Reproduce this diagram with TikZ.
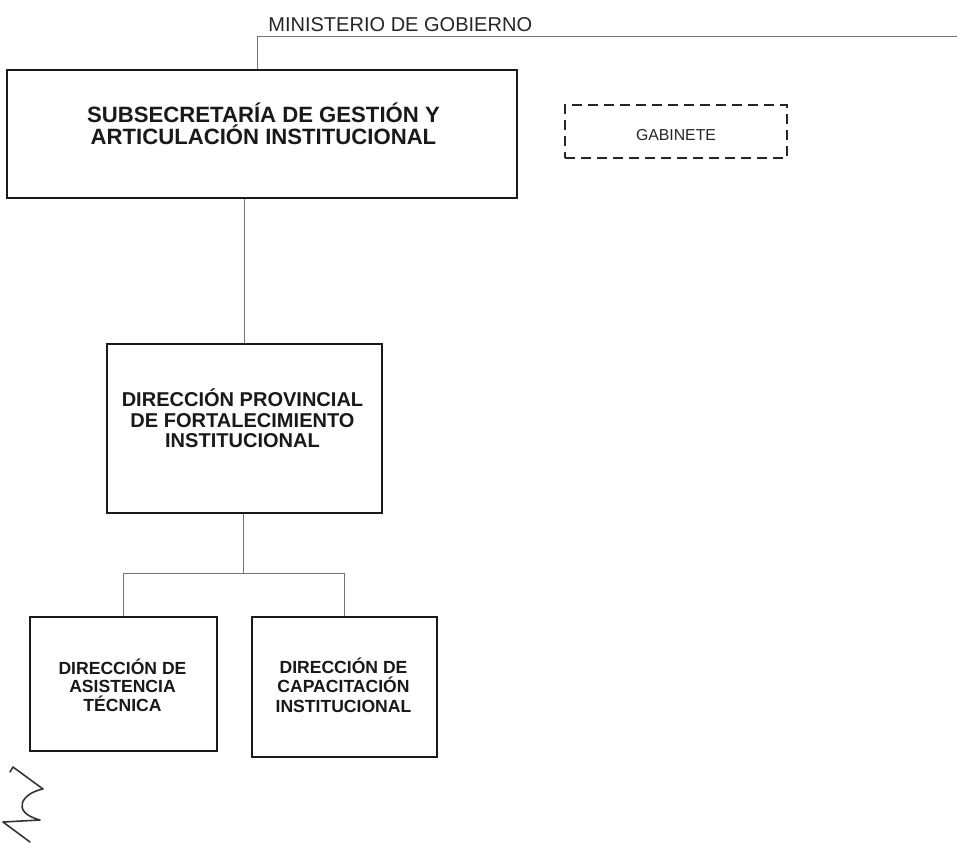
\documentclass[tikz,border=0pt]{standalone}
\usepackage{fontspec}
\setmainfont{Liberation Sans}
\usetikzlibrary{calc}
\begin{document}
\begin{tikzpicture}[x=0.02cm,y=-0.02cm,
  box/.style={draw=black!90,line width=1.1pt,inner sep=0pt},
  dashbox/.style={draw=black!85,line width=1.1pt,inner sep=0pt,dash pattern=on 5.7pt off 3.4pt},
  conn/.style={draw=black!55,line width=0.55pt},
  lbl/.style={align=center,inner sep=0pt,text=black!90,font=\bfseries},
  plain/.style={inner sep=0pt,text=black!85}]
\useasboundingbox[fill=white] (0,0) rectangle (961,850);
% boxes
\node[box,minimum width=10.2cm,minimum height=2.56cm] (b1) at (262,134) {};
\node[dashbox,minimum width=4.44cm,minimum height=1.06cm] (gab) at (676,131.5) {};
\node[box,minimum width=5.5cm,minimum height=3.38cm] (b2) at (244.5,428.5) {};
\node[box,minimum width=3.74cm,minimum height=2.68cm] (b3) at (123.5,684) {};
\node[box,minimum width=3.7cm,minimum height=2.8cm] (b4) at (344.5,687) {};
% texts
\node[lbl,font=\bfseries\fontsize{12.6pt}{12.5pt}\selectfont] (t1) at (263.5,124) {SUBSECRETARÍA DE GESTIÓN Y\\ARTICULACIÓN INSTITUCIONAL};
\node[plain,font=\fontsize{9pt}{10pt}\selectfont] (tg) at (676,135) {GABINETE};
\node[lbl,font=\bfseries\fontsize{11.4pt}{11.6pt}\selectfont] (t2) at (242.5,418.5) {DIRECCIÓN PROVINCIAL\\DE FORTALECIMIENTO\\INSTITUCIONAL};
\node[lbl,font=\bfseries\fontsize{10pt}{10.5pt}\selectfont] (t3) at (122.5,685) {DIRECCIÓN DE\\ASISTENCIA\\TÉCNICA};
\node[lbl,font=\bfseries\fontsize{10pt}{11pt}\selectfont] (t4) at (343.5,685) {DIRECCIÓN DE\\CAPACITACIÓN\\INSTITUCIONAL};
\node[plain,anchor=base west,font=\fontsize{11.4pt}{12pt}\selectfont] (tm) at (268,31) {MINISTERIO DE GOBIERNO};
% connectors
\coordinate (mend) at (957,36);
\coordinate (mcorner) at (257,36);
\draw[conn] (mend) -- (mcorner) -- (mcorner |- b1.north);
\draw[conn] (b2.north) -- (b2.north |- b1.south);
\coordinate (split) at (243,573);
\draw[conn] (b2.south -| split) -- (split);
\draw[conn] (b3.north) -- (b3.north |- split) -| (b4.north);
% handwritten mark
\draw[black!80,line width=0.9pt,line cap=round,line join=round]
  (10,772) -- (13,767) -- (43,789)
  .. controls (22,793) and (10,812) .. (40,820)
  -- (3,822) -- (30,842);
\end{tikzpicture}
\end{document}
